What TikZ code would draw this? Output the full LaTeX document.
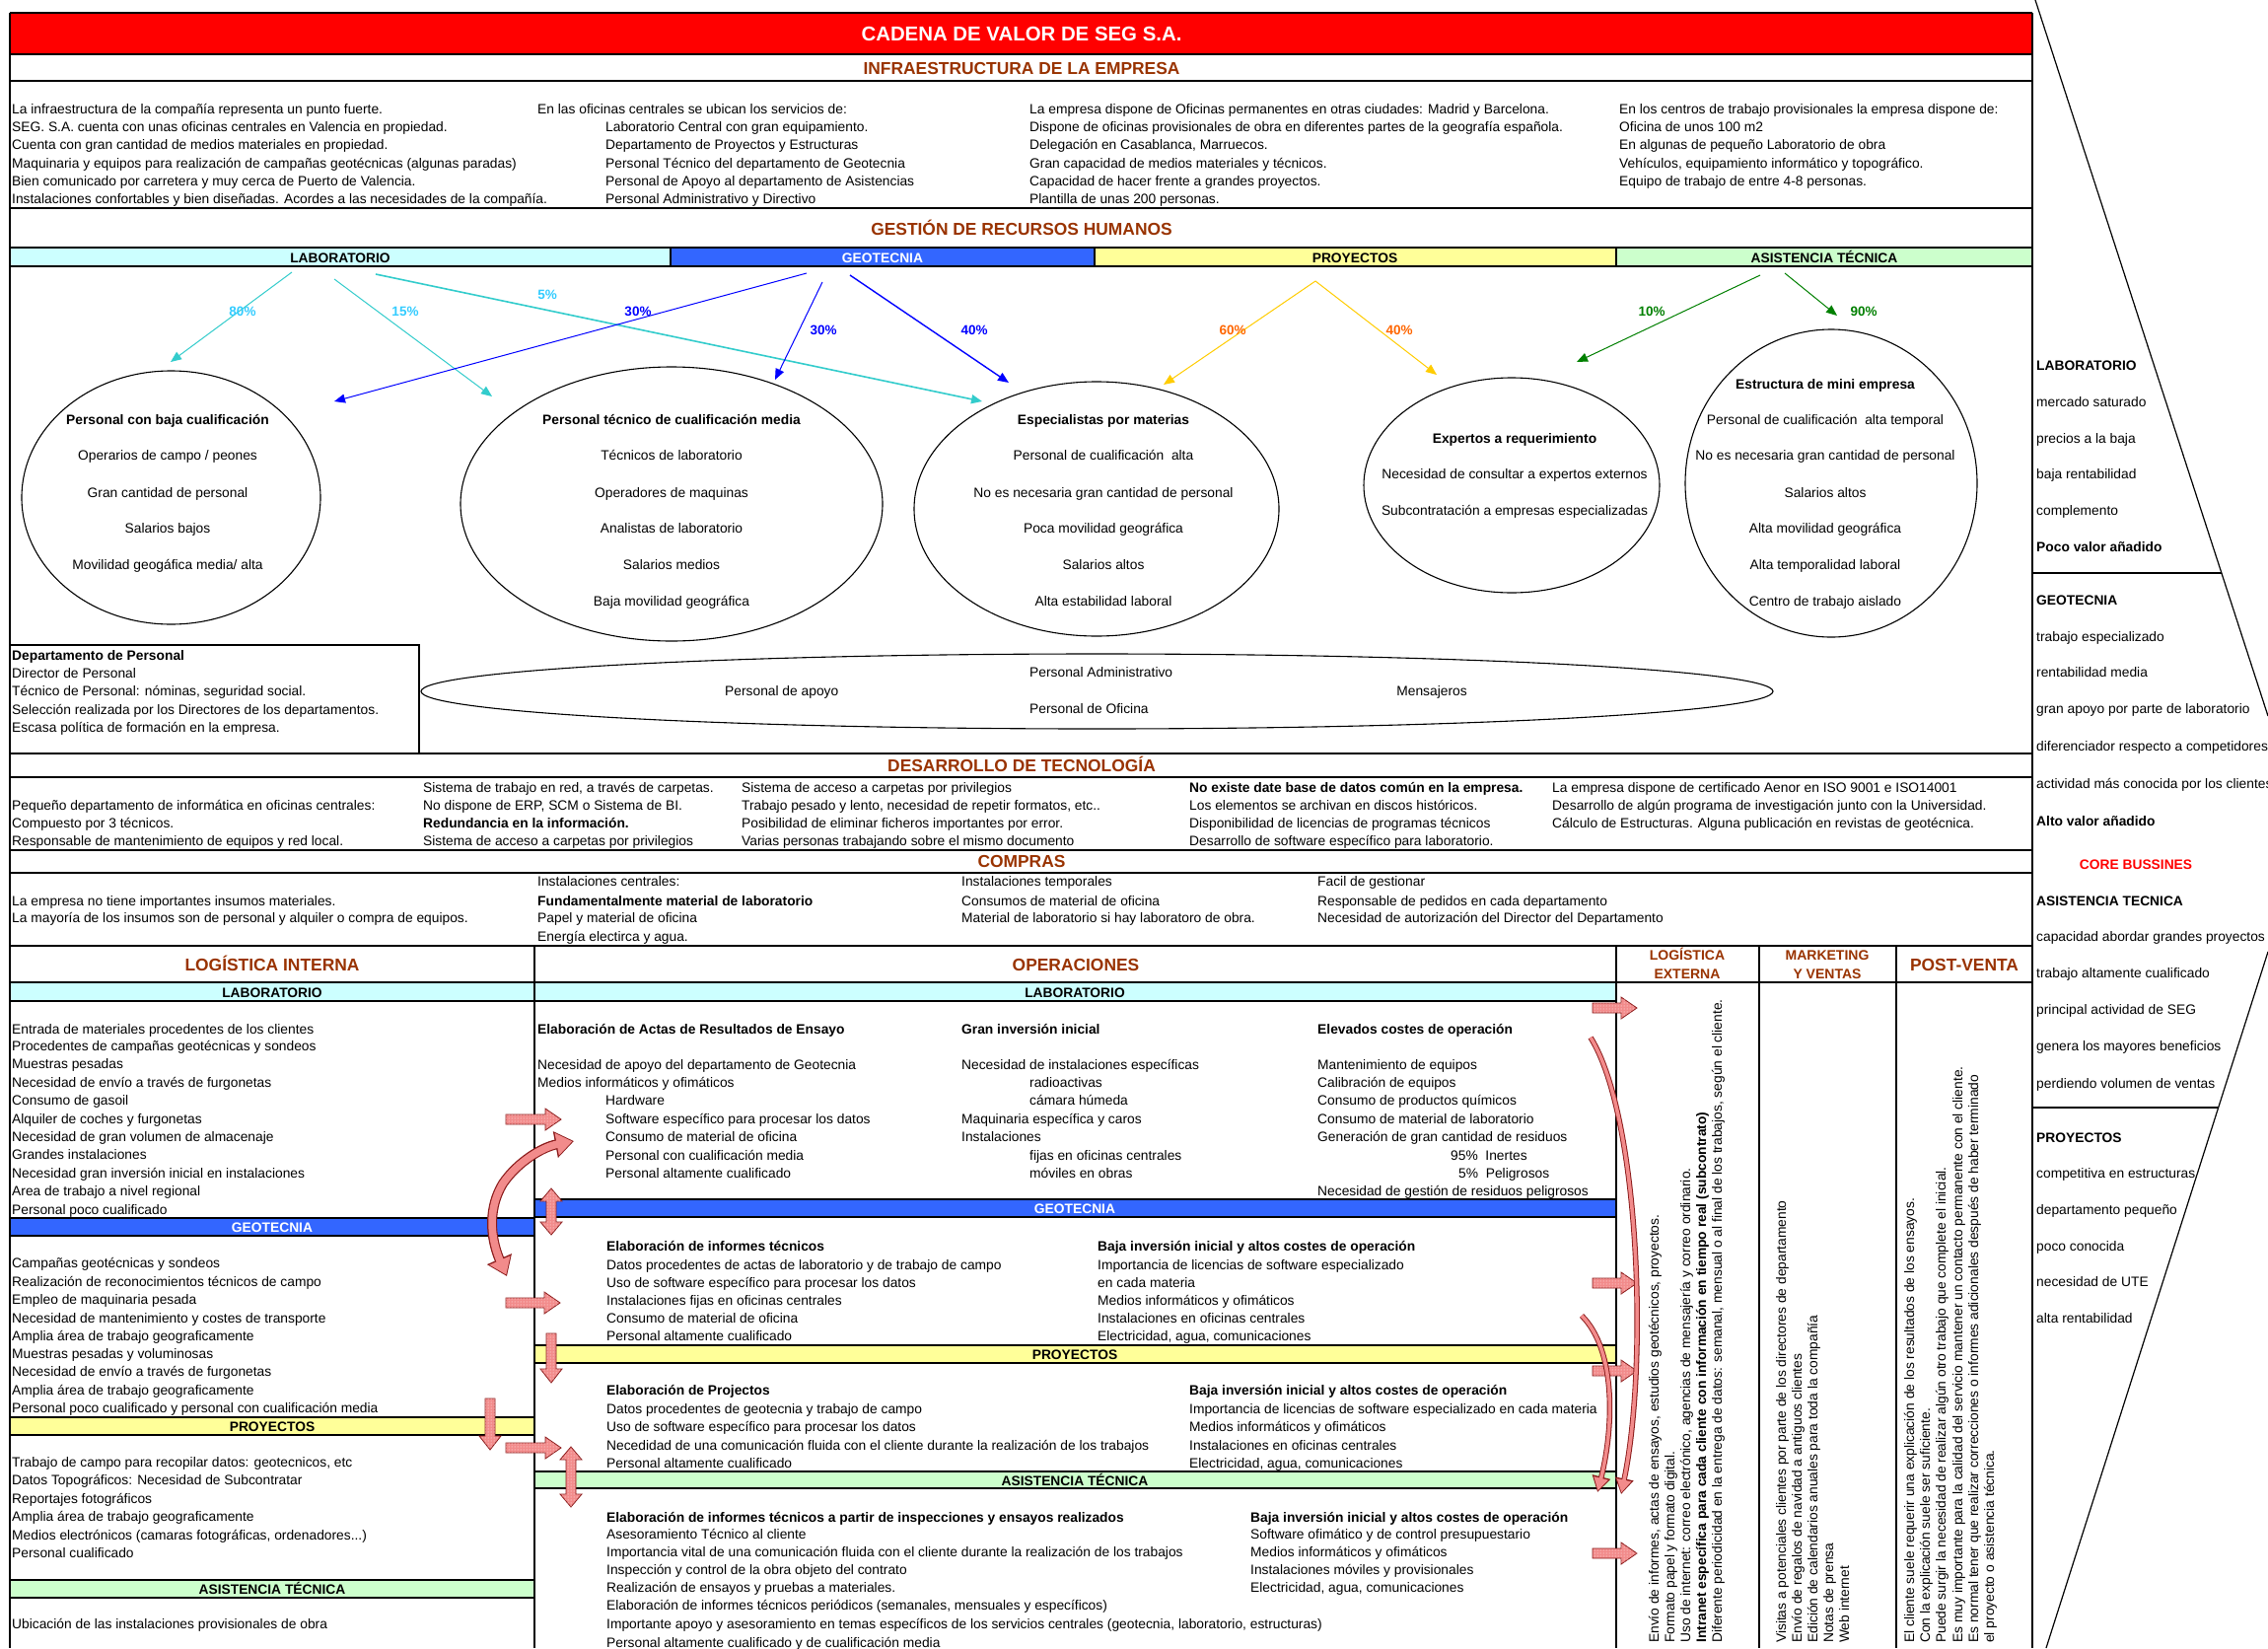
\documentclass[tikz,border=0pt]{standalone}
\usepackage{fontspec}
\setmainfont{Liberation Sans}
\usetikzlibrary{arrows.meta,shapes.geometric,patterns}

\definecolor{hdbrown}{HTML}{993300}
\definecolor{barcyan}{HTML}{CCFFFF}
\definecolor{barblue}{HTML}{3366FF}
\definecolor{baryellow}{HTML}{FFFF99}
\definecolor{bargreen}{HTML}{CCFFCC}
\definecolor{arcyan}{HTML}{33CCCC}
\definecolor{lbcyan}{HTML}{33CCFF}
\definecolor{arblue}{HTML}{0000FF}
\definecolor{aryellow}{HTML}{FFCC00}
\definecolor{lborange}{HTML}{FF6600}
\definecolor{argreen}{HTML}{008000}
\definecolor{blockpink}{HTML}{F28B8B}
\definecolor{blockedge}{HTML}{8B1A1A}

\newcommand{\bodyf}{\fontsize{13.8}{16}\selectfont}
\newcommand{\titlef}{\fontsize{20.4}{24}\selectfont\bfseries}
\newcommand{\headf}{\fontsize{17.4}{20}\selectfont\bfseries}
\newcommand{\subheadf}{\fontsize{14}{16}\selectfont\bfseries}
\newcommand{\pctf}{\fontsize{13.5}{16}\selectfont\bfseries}

% block arrows: right (x1,x2,yc), down (xc,y1,y2), up-down (xc,y1,y2)
\newcommand{\blockright}[3]{%
  \path[blockarrow] (#1,#3-5) -- (#2-16,#3-5) -- (#2-16,#3-11) -- (#2,#3)
    -- (#2-16,#3+11) -- (#2-16,#3+5) -- (#1,#3+5) -- cycle;}
\newcommand{\blockdown}[3]{%
  \path[blockarrow] (#1-5,#2) -- (#1+5,#2) -- (#1+5,#3-14) -- (#1+11,#3-14)
    -- (#1,#3) -- (#1-11,#3-14) -- (#1-5,#3-14) -- cycle;}
\newcommand{\blockupdown}[3]{%
  \path[blockarrow] (#1,#2) -- (#1+11,#2+13) -- (#1+5,#2+13) -- (#1+5,#3-13)
    -- (#1+11,#3-13) -- (#1,#3) -- (#1-11,#3-13) -- (#1-5,#3-13)
    -- (#1-5,#2+13) -- (#1-11,#2+13) -- cycle;}

\begin{document}
\begin{tikzpicture}[x=1pt,y=-1pt,
  txt/.style={anchor=west,inner sep=0pt,font=\bodyf,text height=10pt,text depth=0pt},
  txtb/.style={txt,font=\bodyf\bfseries},
  ctxt/.style={txt,anchor=center},
  ctxtb/.style={txtb,anchor=center},
  vtxt/.style={txt,rotate=90},
  vtxtb/.style={txtb,rotate=90},
  sechead/.style={inner sep=0pt,font=\headf,text=hdbrown,text height=12.5pt,text depth=0pt},
  subhead/.style={inner sep=0pt,font=\subheadf,text=hdbrown,text height=10pt,text depth=0pt},
  barlab/.style={inner sep=0pt,font=\bodyf\bfseries,text height=10pt,text depth=0pt},
  pct/.style={inner sep=0pt,font=\pctf,text height=10pt,text depth=0pt},
  secrule/.style={line width=2.6pt},
  thinrule/.style={line width=1.4pt},
  deptbar/.style={draw=black,line width=2pt},
  oval/.style={draw=black,line width=1.1pt,ellipse,inner sep=0pt},
  hrarrow/.style={line width=1pt,-{Triangle[width=9pt,length=11pt]}},
  blockarrow/.style={fill=blockpink,draw=blockedge,line width=0.8pt,
    postaction={pattern=dots,pattern color=white}},
]
\useasboundingbox (0,0) rectangle (2300,1671);
\fill[white] (0,0) rectangle (2300,1671);

% ---------- title band ----------
\fill[red] (10,13) rectangle (2061,55);
\node[font=\titlef,text=white,inner sep=0pt] (title) at (1036,34) {CADENA DE VALOR DE SEG S.A.};

% ---------- infraestructura ----------
\node[sechead] (h-infra) at (1036,69) {INFRAESTRUCTURA DE LA EMPRESA};
\node[txt] (inf-a1) at (12,110) {La infraestructura de la compañía representa un punto fuerte.};
\node[txt] (inf-a2) at (12,128.3) {SEG. S.A. cuenta con unas oficinas centrales en Valencia en propiedad.};
\node[txt] (inf-a3) at (12,146.7) {Cuenta con gran cantidad de medios materiales en propiedad.};
\node[txt] (inf-a4) at (12,165) {Maquinaria y equipos para realización de campañas geotécnicas (algunas paradas)};
\node[txt] (inf-a5) at (12,183.3) {Bien comunicado por carretera y muy cerca de Puerto de Valencia.};
\node[txt] (inf-a6) at (12,201.7) {Instalaciones confortables y bien diseñadas. Acordes a las necesidades de la compañía.};
\node[txt] (inf-b1) at (545,110) {En las oficinas centrales se ubican los servicios de:};
\node[txt] (inf-b2) at (614,128.3) {Laboratorio Central con gran equipamiento.};
\node[txt] (inf-b3) at (614,146.7) {Departamento de Proyectos y Estructuras};
\node[txt] (inf-b4) at (614,165) {Personal Técnico del departamento de Geotecnia};
\node[txt] (inf-b5) at (614,183.3) {Personal de Apoyo al departamento de Asistencias};
\node[txt] (inf-b6) at (614,201.7) {Personal Administrativo y Directivo};
\node[txt] (inf-c1) at (1044,110) {La empresa dispone de Oficinas permanentes en otras ciudades: Madrid y Barcelona.};
\node[txt] (inf-c2) at (1044,128.3) {Dispone de oficinas provisionales de obra en diferentes partes de la geografía española.};
\node[txt] (inf-c3) at (1044,146.7) {Delegación en Casablanca, Marruecos.};
\node[txt] (inf-c4) at (1044,165) {Gran capacidad de medios materiales y técnicos.};
\node[txt] (inf-c5) at (1044,183.3) {Capacidad de hacer frente a grandes proyectos.};
\node[txt] (inf-c6) at (1044,201.7) {Plantilla de unas 200 personas.};
\node[txt] (inf-d1) at (1642,110) {En los centros de trabajo provisionales la empresa dispone de:};
\node[txt] (inf-d2) at (1642,128.3) {Oficina de unos 100 m2};
\node[txt] (inf-d3) at (1642,146.7) {En algunas de pequeño Laboratorio de obra};
\node[txt] (inf-d4) at (1642,165) {Vehículos, equipamiento informático y topográfico.};
\node[txt] (inf-d5) at (1642,183.3) {Equipo de trabajo de entre 4-8 personas.};

% ---------- recursos humanos ----------
\node[sechead] (h-rrhh) at (1036,232) {GESTIÓN DE RECURSOS HUMANOS};
\fill[barcyan] (10,251) rectangle (680,270);
\fill[barblue] (680,251) rectangle (1110,270);
\fill[baryellow] (1110,251) rectangle (1639,270);
\fill[bargreen] (1639,251) rectangle (2061,270);
\draw[secrule] (680,251) -- (680,270) (1110,251) -- (1110,270) (1639,251) -- (1639,270);
\node[barlab] (hr-lab) at (345,261) {LABORATORIO};
\node[barlab,text=white] (hr-geo) at (895,261) {GEOTECNIA};
\node[barlab] (hr-proy) at (1374,261) {PROYECTOS};
\node[barlab] (hr-at) at (1850,261) {ASISTENCIA TÉCNICA};

% staff groups
\node[oval,minimum width=303pt,minimum height=257pt] (e1) at (173.5,504.5) {};
\node[oval,minimum width=428pt,minimum height=278pt] (e2) at (681,511) {};
\node[oval,minimum width=370pt,minimum height=258pt] (e3) at (1112,516) {};
\node[oval,minimum width=300pt,minimum height=218pt] (e4) at (1533,492) {};
\node[oval,minimum width=296pt,minimum height=312pt] (e5) at (1857,490) {};

\node[ctxtb] (e1-t) at (170,425) {Personal con baja cualificación};
\node[ctxt] (e1-1) at (170,461) {Operarios de campo / peones};
\node[ctxt] (e1-2) at (170,499) {Gran cantidad de personal};
\node[ctxt] (e1-3) at (170,535) {Salarios bajos};
\node[ctxt] (e1-4) at (170,572) {Movilidad geogáfica media/ alta};

\node[ctxtb] (e2-t) at (681,425) {Personal técnico de cualificación media};
\node[ctxt] (e2-1) at (681,461) {Técnicos de laboratorio};
\node[ctxt] (e2-2) at (681,499) {Operadores de maquinas};
\node[ctxt] (e2-3) at (681,535) {Analistas de laboratorio};
\node[ctxt] (e2-4) at (681,572) {Salarios medios};
\node[ctxt] (e2-5) at (681,609) {Baja movilidad geográfica};

\node[ctxtb] (e3-t) at (1119,425) {Especialistas por materias};
\node[ctxt] (e3-1) at (1119,461) {Personal de cualificación~ alta};
\node[ctxt] (e3-2) at (1119,499) {No es necesaria gran cantidad de personal};
\node[ctxt] (e3-3) at (1119,535) {Poca movilidad geográfica};
\node[ctxt] (e3-4) at (1119,572) {Salarios altos};
\node[ctxt] (e3-5) at (1119,609) {Alta estabilidad laboral};

\node[ctxtb] (e4-t) at (1536,444) {Expertos a requerimiento};
\node[ctxt] (e4-1) at (1536,480) {Necesidad de consultar a expertos externos};
\node[ctxt] (e4-2) at (1536,517) {Subcontratación a empresas especializadas};

\node[ctxtb] (e5-t) at (1851,389) {Estructura de mini empresa};
\node[ctxt] (e5-1) at (1851,425) {Personal de cualificación~ alta temporal};
\node[ctxt] (e5-2) at (1851,461) {No es necesaria gran cantidad de personal};
\node[ctxt] (e5-3) at (1851,499) {Salarios altos};
\node[ctxt] (e5-4) at (1851,535) {Alta movilidad geográfica};
\node[ctxt] (e5-5) at (1851,572) {Alta temporalidad laboral};
\node[ctxt] (e5-6) at (1851,609) {Centro de trabajo aislado};

% allocation arrows
\coordinate (lab-s1) at (296,276);  \coordinate (e1-in) at (173,367);
\coordinate (lab-s2) at (339,283);  \coordinate (e2-in1) at (499,402);
\coordinate (lab-s3) at (381,278);  \coordinate (e3-in1) at (996,407);
\coordinate (geo-s1) at (818,277);  \coordinate (e1-in2) at (339,407);
\coordinate (geo-s2) at (834,286);  \coordinate (e2-in2) at (786,385);
\coordinate (geo-s3) at (862,279);  \coordinate (e3-in2) at (1023,388);
\coordinate (proy-s) at (1334,285); \coordinate (e3-in3) at (1180,390);
\coordinate (e4-in) at (1457,380);
\coordinate (at-s1) at (1785,279);  \coordinate (e4-in2) at (1599,367);
\coordinate (at-s2) at (1810,277);  \coordinate (e5-in) at (1863,320);

\draw[hrarrow,arcyan] (lab-s1) -- (e1-in);
\draw[hrarrow,arcyan] (lab-s2) -- (e2-in1);
\draw[hrarrow,arcyan,line width=1.6pt] (lab-s3) -- (e3-in1);
\draw[hrarrow,arblue] (geo-s1) -- (e1-in2);
\draw[hrarrow,arblue] (geo-s2) -- (e2-in2);
\draw[hrarrow,arblue,line width=1.4pt] (geo-s3) -- (e3-in2);
\draw[hrarrow,aryellow] (proy-s) -- (e3-in3);
\draw[hrarrow,aryellow] (proy-s) -- (e4-in);
\draw[hrarrow,argreen] (at-s1) -- (e4-in2);
\draw[hrarrow,argreen] (at-s2) -- (e5-in);

\node[pct,text=lbcyan] (p80) at (246,315) {80\%};
\node[pct,text=lbcyan] (p15) at (411,315) {15\%};
\node[pct,text=lbcyan] (p5) at (555,298) {5\%};
\node[pct,text=arblue] (p30a) at (647,315) {30\%};
\node[pct,text=arblue] (p30b) at (835,334) {30\%};
\node[pct,text=arblue] (p40a) at (988,334) {40\%};
\node[pct,text=lborange] (p60) at (1250,334) {60\%};
\node[pct,text=lborange] (p40b) at (1419,334) {40\%};
\node[pct,text=argreen] (p10) at (1675,315) {10\%};
\node[pct,text=argreen] (p90) at (1890,315) {90\%};

% personnel department box
\draw[line width=2pt] (10,654) -- (425,654) -- (425,764);
\node[txtb] (dp-t) at (12,664) {Departamento de Personal};
\node[txt] (dp-1) at (12,682) {Director de Personal};
\node[txt] (dp-2) at (12,700) {Técnico de Personal: nóminas, seguridad social.};
\node[txt] (dp-3) at (12,719) {Selección realizada por los Directores de los departamentos.};
\node[txt] (dp-4) at (12,737) {Escasa política de formación en la empresa.};

% support staff
\node[oval,minimum width=1371pt,minimum height=76pt] (sup) at (1112.5,701) {};
\node[txt] (sup-1) at (735,700) {Personal de apoyo};
\node[txt] (sup-2) at (1044,681) {Personal Administrativo};
\node[txt] (sup-3) at (1044,718) {Personal de Oficina};
\node[ctxt] (sup-4) at (1452,700) {Mensajeros};

% ---------- desarrollo de tecnologia ----------
\node[sechead] (h-tec) at (1036,776) {DESARROLLO DE TECNOLOGÍA};
\node[txt] (tec-a1) at (12,816) {Pequeño departamento de informática en oficinas centrales:};
\node[txt] (tec-a2) at (12,834) {Compuesto por 3 técnicos.};
\node[txt] (tec-a3) at (12,852) {Responsable de mantenimiento de equipos y red local.};
\node[txt] (tec-b1) at (429,798) {Sistema de trabajo en red, a través de carpetas.};
\node[txt] (tec-b2) at (429,816) {No dispone de ERP, SCM o Sistema de BI.};
\node[txtb] (tec-b3) at (429,834) {Redundancia en la información.};
\node[txt] (tec-b4) at (429,852) {Sistema de acceso a carpetas por privilegios};
\node[txt] (tec-c1) at (752,798) {Sistema de acceso a carpetas por privilegios};
\node[txt] (tec-c2) at (752,816) {Trabajo pesado y lento, necesidad de repetir formatos, etc..};
\node[txt] (tec-c3) at (752,834) {Posibilidad de eliminar ficheros importantes por error.};
\node[txt] (tec-c4) at (752,852) {Varias personas trabajando sobre el mismo documento};
\node[txtb] (tec-d1) at (1206,798) {No existe date base de datos común en la empresa.};
\node[txt] (tec-d2) at (1206,816) {Los elementos se archivan en discos históricos.};
\node[txt] (tec-d3) at (1206,834) {Disponibilidad de licencias de programas técnicos};
\node[txt] (tec-d4) at (1206,852) {Desarrollo de software específico para laboratorio.};
\node[txt] (tec-e1) at (1574,798) {La empresa dispone de certificado Aenor en ISO 9001 e ISO14001};
\node[txt] (tec-e2) at (1574,816) {Desarrollo de algún programa de investigación junto con la Universidad.};
\node[txt] (tec-e3) at (1574,834) {Cálculo de Estructuras. Alguna publicación en revistas de geotécnica.};

% ---------- compras ----------
\node[sechead] (h-comp) at (1036,873) {COMPRAS};
\node[txt] (com-a1) at (12,913) {La empresa no tiene importantes insumos materiales.};
\node[txt] (com-a2) at (12,930) {La mayoría de los insumos son de personal y alquiler o compra de equipos.};
\node[txt] (com-b1) at (545,893) {Instalaciones centrales:};
\node[txtb] (com-b2) at (545,913) {Fundamentalmente material de laboratorio};
\node[txt] (com-b3) at (545,930) {Papel y material de oficina};
\node[txt] (com-b4) at (545,949) {Energía electirca y agua.};
\node[txt] (com-c1) at (975,893) {Instalaciones temporales};
\node[txt] (com-c2) at (975,913) {Consumos de material de oficina};
\node[txt] (com-c3) at (975,930) {Material de laboratorio si hay laboratoro de obra.};
\node[txt] (com-d1) at (1336,893) {Facil de gestionar};
\node[txt] (com-d2) at (1336,913) {Responsable de pedidos en cada departamento};
\node[txt] (com-d3) at (1336,930) {Necesidad de autorización del Director del Departamento};

% ---------- primary activities: headers ----------
\node[sechead] (h-li) at (276,978) {LOGÍSTICA INTERNA};
\node[sechead] (h-op) at (1091,978) {OPERACIONES};
\node[subhead] (h-le1) at (1711,968) {LOGÍSTICA};
\node[subhead] (h-le2) at (1711,987) {EXTERNA};
\node[subhead] (h-mk1) at (1853,968) {MARKETING};
\node[subhead] (h-mk2) at (1853,987) {Y VENTAS};
\node[sechead] (h-pv) at (1992,978) {POST-VENTA};

% sub-bars
\path[deptbar,fill=barcyan] (10,996) rectangle (542,1015);
\path[deptbar,fill=barcyan] (542,996) rectangle (1639,1015);
\path[deptbar,fill=barblue] (10,1235) rectangle (542,1253);
\path[deptbar,fill=barblue] (542,1216) rectangle (1639,1234);
\path[deptbar,fill=baryellow] (10,1437) rectangle (542,1455);
\path[deptbar,fill=baryellow] (542,1364) rectangle (1639,1382);
\path[deptbar,fill=bargreen] (10,1602) rectangle (542,1620);
\path[deptbar,fill=bargreen] (542,1492) rectangle (1639,1509);
\node[barlab] (li-lab) at (276,1006) {LABORATORIO};
\node[barlab] (op-lab) at (1090,1006) {LABORATORIO};
\node[barlab,text=white] (li-geo) at (276,1244) {GEOTECNIA};
\node[barlab,text=white] (op-geo) at (1090,1225) {GEOTECNIA};
\node[barlab] (li-proy) at (276,1446) {PROYECTOS};
\node[barlab] (op-proy) at (1090,1373) {PROYECTOS};
\node[barlab] (li-at) at (276,1611) {ASISTENCIA TÉCNICA};
\node[barlab] (op-at) at (1090,1501) {ASISTENCIA TÉCNICA};

% logistica interna
\node[txt] (li-a1) at (12,1043) {Entrada de materiales procedentes de los clientes};
\node[txt] (li-a2) at (12,1060) {Procedentes de campañas geotécnicas y sondeos};
\node[txt] (li-a3) at (12,1078) {Muestras pesadas};
\node[txt] (li-a4) at (12,1097) {Necesidad de envío a través de furgonetas};
\node[txt] (li-a5) at (12,1115) {Consumo de gasoil};
\node[txt] (li-a6) at (12,1134) {Alquiler de coches y furgonetas};
\node[txt] (li-a7) at (12,1152) {Necesidad de gran volumen de almacenaje};
\node[txt] (li-a8) at (12,1170) {Grandes instalaciones};
\node[txt] (li-a9) at (12,1189) {Necesidad gran inversión inicial en instalaciones};
\node[txt] (li-a10) at (12,1207) {Area de trabajo a nivel regional};
\node[txt] (li-a11) at (12,1226) {Personal poco cualificado};
\node[txt] (li-b1) at (12,1280) {Campañas geotécnicas y sondeos};
\node[txt] (li-b2) at (12,1299) {Realización de reconocimientos técnicos de campo};
\node[txt] (li-b3) at (12,1317) {Empleo de maquinaria pesada};
\node[txt] (li-b4) at (12,1336) {Necesidad de mantenimiento y costes de transporte};
\node[txt] (li-b5) at (12,1354) {Amplia área de trabajo geograficamente};
\node[txt] (li-b6) at (12,1372) {Muestras pesadas y voluminosas};
\node[txt] (li-b7) at (12,1390) {Necesidad de envío a través de furgonetas};
\node[txt] (li-b8) at (12,1409) {Amplia área de trabajo geograficamente};
\node[txt] (li-b9) at (12,1427) {Personal poco cualificado y personal con cualificación media};
\node[txt] (li-c1) at (12,1482) {Trabajo de campo para recopilar datos: geotecnicos, etc};
\node[txt] (li-c2) at (12,1500) {Datos Topográficos: Necesidad de Subcontratar};
\node[txt] (li-c3) at (12,1519) {Reportajes fotográficos};
\node[txt] (li-c4) at (12,1537) {Amplia área de trabajo geograficamente};
\node[txt] (li-c5) at (12,1556) {Medios electrónicos (camaras fotográficas, ordenadores...)};
\node[txt] (li-c6) at (12,1574) {Personal cualificado};
\node[txt] (li-d1) at (12,1646) {Ubicación de las instalaciones provisionales de obra};

% operaciones: laboratorio
\node[txtb] (op-a0) at (545,1043) {Elaboración de Actas de Resultados de Ensayo};
\node[txt] (op-a1) at (545,1079) {Necesidad de apoyo del departamento de Geotecnia};
\node[txt] (op-a2) at (545,1097) {Medios informáticos y ofimáticos};
\node[txt] (op-a3) at (614,1115) {Hardware};
\node[txt] (op-a4) at (614,1134) {Software específico para procesar los datos};
\node[txt] (op-a5) at (614,1152) {Consumo de material de oficina};
\node[txt] (op-a6) at (614,1171) {Personal con cualificación media};
\node[txt] (op-a7) at (614,1189) {Personal altamente cualificado};
\node[txtb] (op-b0) at (975,1043) {Gran inversión inicial};
\node[txt] (op-b1) at (975,1079) {Necesidad de instalaciones específicas};
\node[txt] (op-b2) at (1044,1097) {radioactivas};
\node[txt] (op-b3) at (1044,1115) {cámara húmeda};
\node[txt] (op-b4) at (975,1134) {Maquinaria específica y caros};
\node[txt] (op-b5) at (975,1152) {Instalaciones};
\node[txt] (op-b6) at (1044,1171) {fijas en oficinas centrales};
\node[txt] (op-b7) at (1044,1189) {móviles en obras};
\node[txtb] (op-c0) at (1336,1043) {Elevados costes de operación};
\node[txt] (op-c1) at (1336,1079) {Mantenimiento de equipos};
\node[txt] (op-c2) at (1336,1097) {Calibración de equipos};
\node[txt] (op-c3) at (1336,1115) {Consumo de productos químicos};
\node[txt] (op-c4) at (1336,1134) {Consumo de material de laboratorio};
\node[txt] (op-c5) at (1336,1152) {Generación de gran cantidad de residuos};
\node[txt] (op-c6) at (1471,1171) {95\%~ Inertes};
\node[txt] (op-c7) at (1479,1189) {5\%~ Peligrosos};
\node[txt] (op-c8) at (1336,1207) {Necesidad de gestión de residuos peligrosos};

% operaciones: geotecnia
\node[txtb] (op-d0) at (615,1263) {Elaboración de informes técnicos};
\node[txt] (op-d1) at (615,1282) {Datos procedentes de actas de laboratorio y de trabajo de campo};
\node[txt] (op-d2) at (615,1300) {Uso de software específico para procesar los datos};
\node[txt] (op-d3) at (615,1318) {Instalaciones fijas en oficinas centrales};
\node[txt] (op-d4) at (615,1336) {Consumo de material de oficina};
\node[txt] (op-d5) at (615,1354) {Personal altamente cualificado};
\node[txtb] (op-e0) at (1113,1263) {Baja inversión inicial y altos costes de operación};
\node[txt] (op-e1) at (1113,1282) {Importancia de licencias de software especializado};
\node[txt] (op-e2) at (1113,1300) {en cada materia};
\node[txt] (op-e3) at (1113,1318) {Medios informáticos y ofimáticos};
\node[txt] (op-e4) at (1113,1336) {Instalaciones en oficinas centrales};
\node[txt] (op-e5) at (1113,1354) {Electricidad, agua, comunicaciones};

% operaciones: proyectos
\node[txtb] (op-f0) at (615,1409) {Elaboración de Projectos};
\node[txt] (op-f1) at (615,1428) {Datos procedentes de geotecnia y trabajo de campo};
\node[txt] (op-f2) at (615,1446) {Uso de software específico para procesar los datos};
\node[txt] (op-f3) at (615,1465) {Necedidad de una comunicación fluida con el cliente durante la realización de los trabajos};
\node[txt] (op-f4) at (615,1483) {Personal altamente cualificado};
\node[txtb] (op-g0) at (1206,1409) {Baja inversión inicial y altos costes de operación};
\node[txt] (op-g1) at (1206,1428) {Importancia de licencias de software especializado en cada materia};
\node[txt] (op-g2) at (1206,1446) {Medios informáticos y ofimáticos};
\node[txt] (op-g3) at (1206,1465) {Instalaciones en oficinas centrales};
\node[txt] (op-g4) at (1206,1483) {Electricidad, agua, comunicaciones};

% operaciones: asistencia tecnica
\node[txtb] (op-h0) at (615,1538) {Elaboración de informes técnicos a partir de inspecciones y ensayos realizados};
\node[txt] (op-h1) at (615,1555) {Asesoramiento Técnico al cliente};
\node[txt] (op-h2) at (615,1573) {Importancia vital de una comunicación fluida con el cliente durante la realización de los trabajos};
\node[txt] (op-h3) at (615,1591) {Inspección y control de la obra objeto del contrato};
\node[txt] (op-h4) at (615,1609) {Realización de ensayos y pruebas a materiales.};
\node[txt] (op-h5) at (615,1627) {Elaboración de informes técnicos periódicos (semanales, mensuales y específicos)};
\node[txt] (op-h6) at (615,1646) {Importante apoyo y asesoramiento en temas específicos de los servicios centrales (geotecnia, laboratorio, estructuras)};
\node[txt] (op-h7) at (615,1665) {Personal altamente cualificado y de cualificación media};
\node[txtb] (op-i0) at (1268,1538) {Baja inversión inicial y altos costes de operación};
\node[txt] (op-i1) at (1268,1555) {Software ofimático y de control presupuestario};
\node[txt] (op-i2) at (1268,1573) {Medios informáticos y ofimáticos};
\node[txt] (op-i3) at (1268,1591) {Instalaciones móviles y provisionales};
\node[txt] (op-i4) at (1268,1609) {Electricidad, agua, comunicaciones};

% logistica externa, marketing, post-venta (vertical text)
\node[vtxt] (le-1) at (1677,1666) {Envío de informes, actas de ensayos, estudios geotécnicos, proyectos.};
\node[vtxt] (le-2) at (1693,1666) {Formato papel y formato digital.};
\node[vtxt] (le-3) at (1709,1666) {Uso de internet: correo electrónico, agencias de mensajería y correo ordinario.};
\node[vtxtb] (le-4) at (1725,1666) {Intranet específica para cada cliente con información en tiempo real (subcontrato)};
\node[vtxt] (le-5) at (1741,1666) {Diferente periodicidad en la entrega de datos: semanal, mensual o al final de los trabajos, según el cliente.};
\node[vtxt] (mk-1) at (1806,1666) {Visitas a potenciales clientes por parte de los directores de departamento};
\node[vtxt] (mk-2) at (1822,1666) {Envío de regalos de navidad a antiguos clientes};
\node[vtxt] (mk-3) at (1838,1666) {Edición de calendarios anuales para toda la compañía};
\node[vtxt] (mk-4) at (1854,1666) {Notas de prensa};
\node[vtxt] (mk-5) at (1870,1666) {Web internet};
\node[vtxt] (pv-1) at (1936,1666) {El cliente suele requerir una explicación de los resultados de los ensayos.};
\node[vtxt] (pv-2) at (1952,1666) {Con la explicación suele ser suficiente.};
\node[vtxt] (pv-3) at (1968,1666) {Puede surgir la necesidad de realizar algún otro trabajo que complete el inicial.};
\node[vtxt] (pv-4) at (1985,1666) {Es muy importante para la calidad del servicio mantener un contacto permanente con el cliente.};
\node[vtxt] (pv-5) at (2001,1666) {Es normal tener que realizar correcciones o informes adicionales después de haber terminado};
\node[vtxt] (pv-6) at (2017,1666) {el proyecto o asistencia técnica.};

% ---------- value panel on the right ----------
\draw[line width=1.2pt] (2064,0) -- (2300,726);
\draw[line width=1.2pt] (2300,965) -- (2075,1671);
\draw[line width=2.4pt] (2061,581) -- (2253,581);
\draw[line width=2.4pt] (2061,1123) -- (2250,1123);
\node[txtb] (vp-1) at (2065,370) {LABORATORIO};
\node[txt] (vp-2) at (2065,407) {mercado saturado};
\node[txt] (vp-3) at (2065,444) {precios a la baja};
\node[txt] (vp-4) at (2065,480) {baja rentabilidad};
\node[txt] (vp-5) at (2065,517) {complemento};
\node[txtb] (vp-6) at (2065,554) {Poco valor añadido};
\node[txtb] (vp-7) at (2065,608) {GEOTECNIA};
\node[txt] (vp-8) at (2065,645) {trabajo especializado};
\node[txt] (vp-9) at (2065,681) {rentabilidad media};
\node[txt] (vp-10) at (2065,718) {gran apoyo por parte de laboratorio};
\node[txt] (vp-11) at (2065,756) {diferenciador respecto a competidores};
\node[txt] (vp-12) at (2065,794) {actividad más conocida por los clientes};
\node[txtb] (vp-13) at (2065,832) {Alto valor añadido};
\node[ctxtb,text=red] (vp-14) at (2166,876) {CORE BUSSINES};
\node[txtb] (vp-15) at (2065,913) {ASISTENCIA TECNICA};
\node[txt] (vp-16) at (2065,949) {capacidad abordar grandes proyectos};
\node[txt] (vp-17) at (2065,986) {trabajo altamente cualificado};
\node[txt] (vp-18) at (2065,1023) {principal actividad de SEG};
\node[txt] (vp-19) at (2065,1060) {genera los mayores beneficios};
\node[txt] (vp-20) at (2065,1098) {perdiendo volumen de ventas};
\node[txtb] (vp-21) at (2065,1153) {PROYECTOS};
\node[txt] (vp-22) at (2065,1189) {competitiva en estructuras};
\node[txt] (vp-23) at (2065,1226) {departamento pequeño};
\node[txt] (vp-24) at (2065,1263) {poco conocida};
\node[txt] (vp-25) at (2065,1299) {necesidad de UTE};
\node[txt] (vp-26) at (2065,1336) {alta rentabilidad};

% ---------- frame and rules ----------
\draw[secrule] (10,13) -- (2061,13);
\draw[secrule] (10,55) -- (2061,55);
\draw[thinrule] (10,82) -- (2061,82);
\foreach \yy in {211,251,270,764,788,862,885,959,996}
  \draw[secrule] (10,\yy) -- (2061,\yy);
\draw[line width=2pt] (10,13) -- (10,1671);
\draw[line width=2pt] (2061,13) -- (2061,1671);
\foreach \xx in {542,1639,1784,1923}
  \draw[line width=2pt] (\xx,959) -- (\xx,1671);

% ---------- flow arrows between activities ----------
\blockright{513}{569}{1135}
\blockright{513}{568}{1321}
\blockright{513}{569}{1468}
\blockdown{559}{1352}{1402}
\blockdown{497}{1418}{1470}
\blockupdown{559}{1205}{1252}
\blockupdown{579}{1467}{1528}
\blockright{1615}{1660}{1022}
\blockright{1615}{1660}{1301}
\blockright{1615}{1660}{1390}
\blockright{1615}{1660}{1575}

% curved arrows
\draw[line width=10pt,blockedge,{Triangle[width=26pt,length=19pt]}-{Triangle[width=26pt,length=19pt]}]
  (514,1294) .. controls (500,1262) and (492,1230) .. (510,1200)
  .. controls (525,1178) and (550,1163) .. (582,1157);
\draw[line width=7.6pt,blockpink,shorten <=1.6pt,shorten >=1.6pt,{Triangle[width=22pt,length=16pt]}-{Triangle[width=22pt,length=16pt]}]
  (514,1294) .. controls (500,1262) and (492,1230) .. (510,1200)
  .. controls (525,1178) and (550,1163) .. (582,1157);

\draw[line width=5.5pt,blockedge,-{Triangle[width=18pt,length=16pt]}]
  (1613,1052) .. controls (1662,1130) and (1672,1380) .. (1644,1515);
\draw[line width=3.6pt,blockpink,shorten >=1.6pt,-{Triangle[width=14pt,length=13pt]}]
  (1613,1052) .. controls (1662,1130) and (1672,1380) .. (1644,1515);
\draw[line width=5.5pt,blockedge,-{Triangle[width=18pt,length=16pt]}]
  (1604,1334) .. controls (1640,1370) and (1636,1450) .. (1620,1513);
\draw[line width=3.6pt,blockpink,shorten >=1.6pt,-{Triangle[width=14pt,length=13pt]}]
  (1604,1334) .. controls (1640,1370) and (1636,1450) .. (1620,1513);
\end{tikzpicture}
\end{document}
